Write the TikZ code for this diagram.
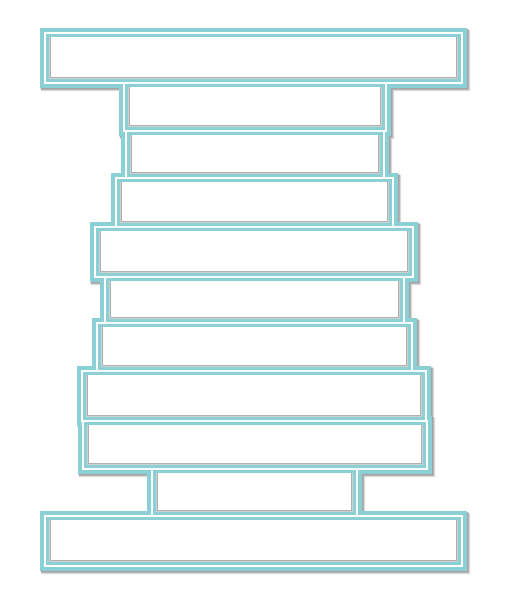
\documentclass[tikz,border=0pt]{standalone}
\usepackage{tikz}

\definecolor{stackteal}{RGB}{138,208,212}
\definecolor{stackshade}{RGB}{150,150,150}

\tikzset{
  rim/.style={fill=stackteal},
  seam/.style={draw=white, line width=1.3pt, fill=stackteal},
}

\begin{document}
\begin{tikzpicture}[x=1pt, y=-1pt]

\useasboundingbox (0,0) rectangle (509,600);

% drop shadow of the whole stack
\begin{scope}[transparency group, opacity=0.15]
\foreach \xa/\ya/\xb/\yb in {45/33/462/83, 124/83/386/131, 126/131/384/178, 116/178/393/227, 95/227/413/277, 105/277/404/323, 97/323/412/371, 82/371/426/421, 83/421/427/469, 152/469/357/516, 45/516/462/566}
  \fill[black] (\xa-4,\ya-3) rectangle (\xb+8,\yb+8);
\end{scope}
\begin{scope}[transparency group, opacity=0.25]
\foreach \xa/\ya/\xb/\yb in {45/33/462/83, 124/83/386/131, 126/131/384/178, 116/178/393/227, 95/227/413/277, 105/277/404/323, 97/323/412/371, 82/371/426/421, 83/421/427/469, 152/469/357/516, 45/516/462/566}
  \fill[black] (\xa-4.5,\ya-4) rectangle (\xb+6.5,\yb+6.5);
\end{scope}

% outer teal rim
\foreach \xa/\ya/\xb/\yb in {45/33/462/83, 124/83/386/131, 126/131/384/178, 116/178/393/227, 95/227/413/277, 105/277/404/323, 97/323/412/371, 82/371/426/421, 83/421/427/469, 152/469/357/516, 45/516/462/566}
  \fill[rim] (\xa-5,\ya-5) rectangle (\xb+5,\yb+5);

% the boxes
\foreach \xa/\ya/\xb/\yb in {45/33/462/83, 124/83/386/131, 126/131/384/178, 116/178/393/227, 95/227/413/277, 105/277/404/323, 97/323/412/371, 82/371/426/421, 83/421/427/469, 152/469/357/516, 45/516/462/566}
{
  \draw[seam] (\xa,\ya) rectangle (\xb,\yb);
  \fill[stackshade!45] (\xa+4,\ya+4) rectangle (\xb-4,\yb-4);
  \fill[stackshade!75] (\xa+4.7,\ya+4) rectangle (\xb-4.7,\yb-4.7);
  \fill[white] (\xa+5.8,\ya+4.2) rectangle (\xb-5.8,\yb-5.8);
}

\end{tikzpicture}
\end{document}
